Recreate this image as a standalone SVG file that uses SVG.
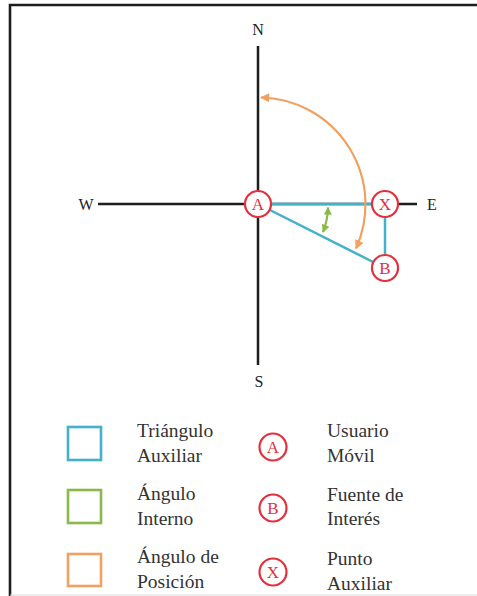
<svg xmlns="http://www.w3.org/2000/svg" width="477" height="596" viewBox="0 0 477 596">
<style>
.axis{stroke:#1e1e1e;stroke-width:2.5;fill:none}
.tri{stroke:#45b0cc;stroke-width:2.5;fill:none}
.pt circle{fill:#fff;stroke:#e3303c;stroke-width:2.2}
.pt text{fill:#e3303c;font-family:'Liberation Serif','Times New Roman',serif;font-size:17px;text-anchor:middle}
.lbl{fill:#222;font-family:'Liberation Serif','Times New Roman',serif;font-size:16px;text-anchor:middle}
.leg{fill:#333;font-family:'Liberation Serif','Times New Roman',serif;font-size:19.5px}
.sq{fill:none;stroke-width:2.6}
</style>
<defs>
<marker id="ao" viewBox="0 0 10 10" refX="9" refY="5" markerWidth="11" markerHeight="9" markerUnits="userSpaceOnUse" orient="auto-start-reverse"><path d="M0,0 L10,5 L0,10 z" fill="#f0a060"/></marker>
<marker id="ag" viewBox="0 0 10 10" refX="9" refY="5" markerWidth="9" markerHeight="8" markerUnits="userSpaceOnUse" orient="auto-start-reverse"><path d="M0,0 L10,5 L0,10 z" fill="#8ab84a"/></marker>
</defs>
<rect width="477" height="596" fill="#fff"/>
<g id="frame">
<path d="M10,596 L10,5 L477,5" fill="none" stroke="#1e1e1e" stroke-width="2.6"/>
<line x1="10" y1="595" x2="477" y2="595" stroke="#ddd" stroke-width="1"/>
</g>
<g id="connectors">
<line class="axis" x1="258" y1="46" x2="258" y2="365"/>
<line class="axis" x1="98" y1="204" x2="417" y2="204"/>
<line class="tri" x1="258" y1="204" x2="385" y2="204"/>
<line class="tri" x1="385" y1="204" x2="385" y2="268"/>
<line class="tri" x1="258" y1="204" x2="385" y2="268"/>
<path d="M261,97.5 A107,107 0 0 1 356,248.5" fill="none" stroke="#f0a060" stroke-width="2.2" marker-start="url(#ao)" marker-end="url(#ao)"/>
<path d="M328,207.5 A70,70 0 0 1 323,232" fill="none" stroke="#8ab84a" stroke-width="2.2" marker-start="url(#ag)" marker-end="url(#ag)"/>
</g>
<g id="labels">
<text class="lbl" x="258" y="35">N</text>
<text class="lbl" x="259" y="387">S</text>
<text class="lbl" x="86" y="210">W</text>
<text class="lbl" x="432" y="210">E</text>
</g>
<g id="nodeA" class="pt"><circle cx="258" cy="204" r="13"/><text x="258" y="210">A</text></g>
<g id="nodeX" class="pt"><circle cx="385" cy="204" r="13"/><text x="385" y="210">X</text></g>
<g id="nodeB" class="pt"><circle cx="385" cy="268" r="13"/><text x="385" y="274">B</text></g>
<g id="legend">
<rect class="sq" x="68" y="427" width="33" height="33" stroke="#45b0cc"/>
<rect class="sq" x="68" y="490" width="33" height="33" stroke="#8ab84a"/>
<rect class="sq" x="68" y="554" width="33" height="32" stroke="#f0a060"/>
<text class="leg" x="137" y="437">Triángulo</text>
<text class="leg" x="137" y="462">Auxiliar</text>
<text class="leg" x="137" y="500">Ángulo</text>
<text class="leg" x="137" y="525">Interno</text>
<text class="leg" x="137" y="563">Ángulo de</text>
<text class="leg" x="137" y="588">Posición</text>
<g class="pt"><circle cx="273" cy="447" r="13.5"/><text x="273" y="453">A</text></g>
<g class="pt"><circle cx="273" cy="508" r="13.5"/><text x="273" y="514">B</text></g>
<g class="pt"><circle cx="273" cy="572" r="13.5"/><text x="273" y="578">X</text></g>
<text class="leg" x="327" y="437">Usuario</text>
<text class="leg" x="327" y="462">Móvil</text>
<text class="leg" x="327" y="501">Fuente de</text>
<text class="leg" x="327" y="525">Interés</text>
<text class="leg" x="327" y="565">Punto</text>
<text class="leg" x="327" y="590">Auxiliar</text>
</g>
</svg>
